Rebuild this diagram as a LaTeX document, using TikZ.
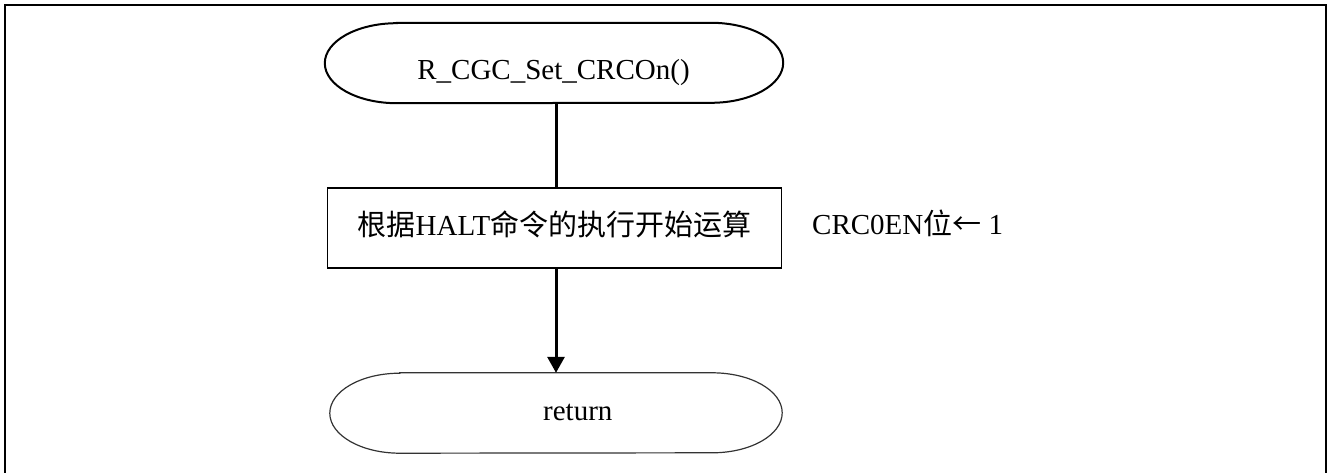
\documentclass[tikz,border=0pt]{standalone}
\usepackage{fontspec}
\setmainfont{Liberation Serif}
\newfontfamily\cjk{Noto Sans CJK SC}
\usetikzlibrary{arrows.meta,calc}

\tikzset{
  flowtext/.style={font=\fontsize{29}{34}\selectfont, inner sep=0pt},
  termnode/.style={draw=none, minimum width=#1, minimum height=80pt, inner sep=0pt},
  procbox/.style={draw, line width=1.8pt, minimum width=454pt, minimum height=80pt,
    inner sep=0pt, text height=20pt, text depth=4pt, flowtext},
  link/.style={line width=3pt},
  arrowlink/.style={line width=3pt, -{Triangle[width=17pt,length=16pt]}},
}

% stadium outline with elliptical ends around a named node
\newcommand{\stadiumoutline}[3]{%
  \draw[#3] ([xshift=#2]#1.north west) -- ([xshift=-#2]#1.north east)
    arc[start angle=90, end angle=-90, x radius=#2, y radius=40pt]
    -- ([xshift=#2]#1.south west)
    arc[start angle=270, end angle=90, x radius=#2, y radius=40pt] -- cycle;}

\begin{document}
\begin{tikzpicture}[x=1pt, y=1pt]
  \clip (0,0) rectangle (1328,-473);
  \useasboundingbox (0,0) rectangle (1328,-473);

  % outer frame (bottom edge runs below the page)
  \draw[line width=2pt] (5,-5) rectangle (1326,-490);

  % start terminal
  \node[termnode=458pt] (start) at (554,-63) {};
  \stadiumoutline{start}{72pt}{line width=2pt}
  \node[flowtext, anchor=base] (starttext) at (553.5,-80) {R\_CGC\_Set\_CRCOn()};

  % processing step
  \node[procbox] (step1) at (554.5,-228) {{\cjk 根据}HALT{\cjk 命令的执行开始运算}};
  \node[flowtext, anchor=base west] (note1) at (812,-235) {CRC0EN{\cjk 位←} 1};

  % end terminal
  \node[termnode=452pt] (finish) at (556,-413) {};
  \stadiumoutline{finish}{70pt}{line width=1.2pt, draw=black!80}
  \node[flowtext, anchor=base west] (finishtext) at (543,-420) {return};

  % connectors
  \draw[link] (start.south -| 556,0) -- (step1.north -| 556,0);
  \draw[arrowlink] (step1.south -| 556,0) -- (finish.north -| 556,0);
\end{tikzpicture}
\end{document}
